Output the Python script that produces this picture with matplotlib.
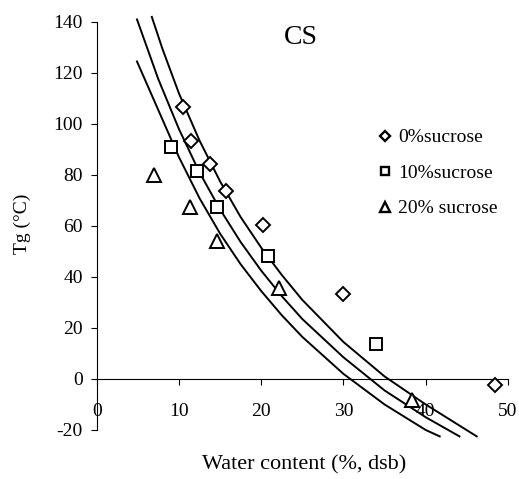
import matplotlib
matplotlib.use('Agg')
import matplotlib.pyplot as plt
from matplotlib.lines import Line2D

plt.rcParams['font.family'] = ['Liberation Serif', 'DejaVu Serif']
plt.rcParams['axes.unicode_minus'] = False

# measured Tg values
w_0 = [10.45, 11.45, 13.75, 15.7, 20.25, 30.0, 48.4]
tg_0 = [106.5, 93.5, 84.2, 73.8, 60.5, 33.3, -2.5]
w_10 = [9.0, 12.15, 14.6, 20.8, 33.9]
tg_10 = [91.0, 81.5, 67.4, 48.3, 13.8]
w_20 = [7.0, 11.35, 14.65, 22.2, 38.3]
tg_20 = [80.0, 67.6, 54.3, 35.5, -8.4]

# fitted curves
fit_x_0 = [6.7, 8, 10, 12.5, 15, 17.5, 20, 22.5, 25, 30, 35, 40, 46.2]
fit_y_0 = [142, 129.4, 112, 93.5, 77.5, 63.5, 51.5, 40.8, 31, 14.5, 1, -10, -22.5]
fit_x_10 = [4.9, 7.5, 10, 12.5, 15, 17.5, 20, 22.5, 25, 30, 35, 40, 44.1]
fit_y_10 = [141, 117.5, 98, 81, 66.5, 53.7, 42.5, 32.5, 23.5, 8.5, -4.5, -15, -22.5]
fit_x_20 = [4.9, 7.5, 10, 12.5, 15, 17.5, 20, 22.5, 25, 30, 35, 40, 41.7]
fit_y_20 = [124.5, 105.4, 87, 70.9, 57, 45, 34.5, 25, 16.5, 2, -10, -20, -22.5]

labels = ['0%sucrose', '10%sucrose', '20% sucrose']
xticks = [0, 10, 20, 30, 40, 50]
yticks = [-20, 0, 20, 40, 60, 80, 100, 120, 140]

fig = plt.figure(figsize=(5.19, 4.79), dpi=100)
ax = fig.add_axes([0.1863, 0.1023, 0.7925, 0.8518])

for fx, fy in [(fit_x_0, fit_y_0), (fit_x_10, fit_y_10), (fit_x_20, fit_y_20)]:
    ax.plot(fx, fy, color='black', lw=1.4, clip_on=False, zorder=2)

mk = dict(linestyle='none', mfc='white', mec='black', mew=1.4, clip_on=False, zorder=3)
ax.plot(w_0, tg_0, marker='D', ms=7.5, **mk)
ax.plot(w_10, tg_10, marker='s', ms=9, **mk)
ax.plot(w_20, tg_20, marker='^', ms=10.5, **mk)

ax.set_xlim(0, 50)
ax.set_ylim(-20, 140)
ax.set_xticks(xticks)
ax.set_yticks(yticks)
ax.spines['top'].set_visible(False)
ax.spines['right'].set_visible(False)
ax.spines['bottom'].set_position(('data', 0))
ax.tick_params(axis='both', direction='out', length=4, width=0.8, labelsize=14)
ax.tick_params(axis='x', pad=13)
ax.tick_params(axis='y', pad=6)

ax.text(24.8, 134, 'CS', ha='center', va='center', fontsize=20)

handles = [
    Line2D([], [], marker='D', ms=4.8, linestyle='none', mfc='white', mec='black', mew=1.7),
    Line2D([], [], marker='s', ms=6.2, linestyle='none', mfc='white', mec='black', mew=1.7),
    Line2D([], [], marker='^', ms=7, linestyle='none', mfc='white', mec='black', mew=1.7),
]
ax.legend(handles, labels, loc='center left', bbox_to_anchor=(377 / 519, 1 - 173 / 479),
          bbox_transform=fig.transFigure, frameon=False, fontsize=14,
          handlelength=0.8, handletextpad=0.3, labelspacing=0.92,
          borderpad=0, borderaxespad=0)

fig.text(304 / 519, 1 - 465 / 479, 'Water content (%, dsb)', ha='center', va='center', fontsize=16)
fig.text(22 / 519, 1 - 224 / 479, 'Tg (°C)', ha='center', va='center', rotation=90, fontsize=14)

fig.savefig('out.png', dpi=100)
